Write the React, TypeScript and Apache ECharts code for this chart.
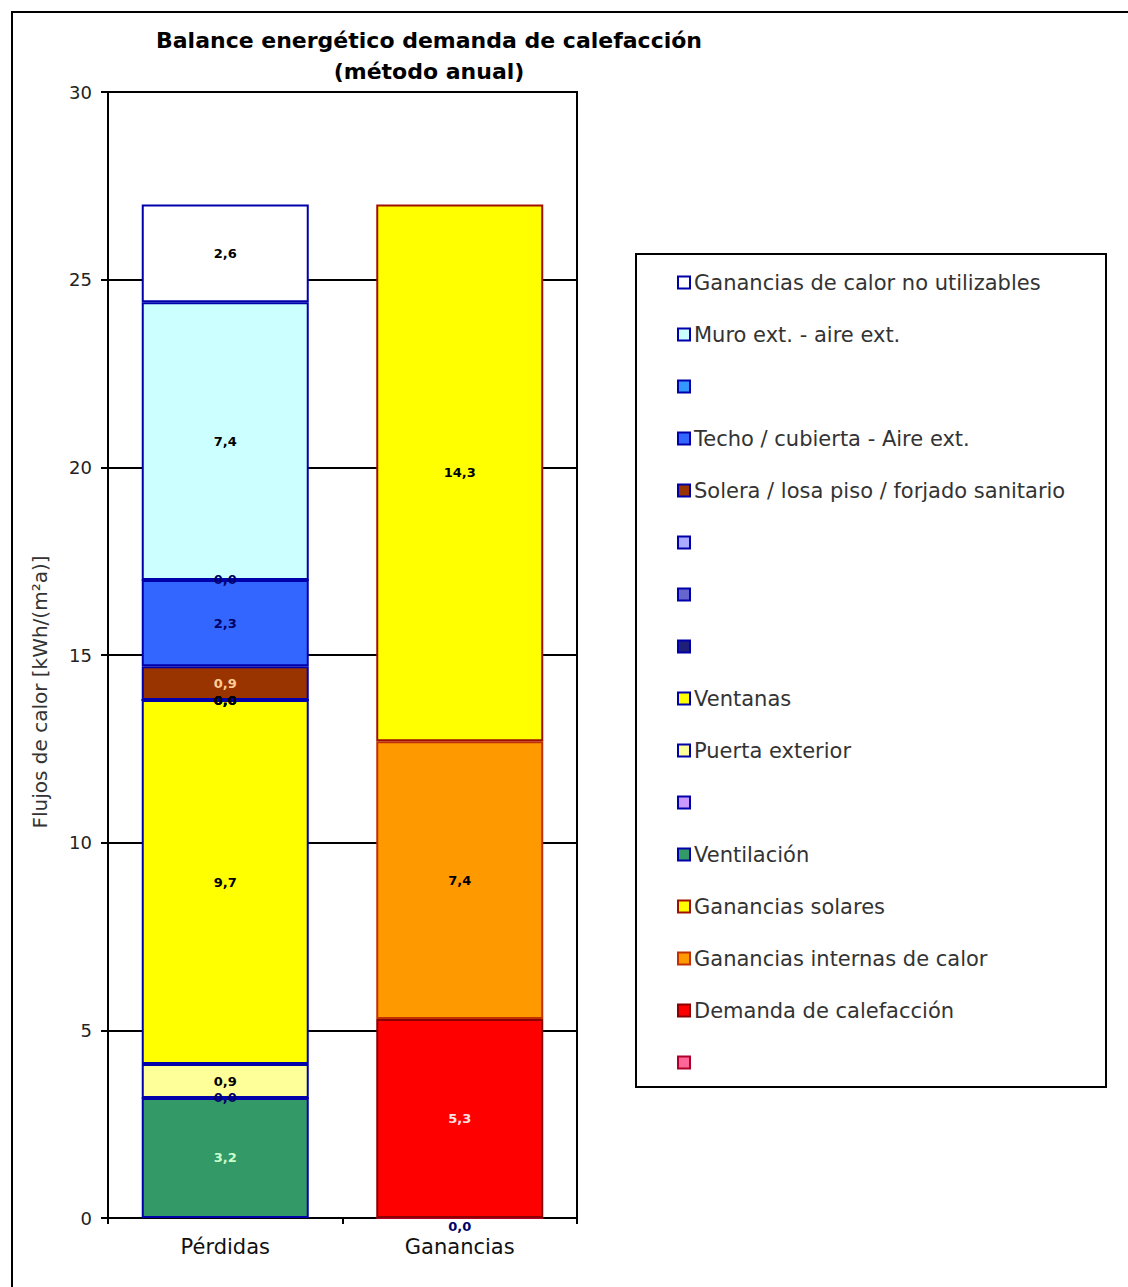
import React, { useEffect, useRef } from "react";
import * as echarts from "echarts";

const categories = ["Pérdidas", "Ganancias"];
const yTicks = { min: 0, max: 30, interval: 5 };

// Series in stacking order (bottom to top). "-" = no bar in that category.
const seriesNames = [
  "_b16",
  "Demanda de calefacción",
  "Ganancias internas de calor",
  "Ganancias solares",
  "Ventilación",
  "_b11",
  "Puerta exterior",
  "Ventanas",
  "_b8",
  "_b7",
  "_b6",
  "Solera / losa piso / forjado sanitario",
  "Techo / cubierta - Aire ext.",
  "_b3",
  "Muro ext. - aire ext.",
  "Ganancias de calor no utilizables",
];
const perdidasValues: (number | string)[] = ["-", "-", "-", "-", 3.2, 0, 0.9, 9.7, 0, 0, 0, 0.9, 2.3, 0, 7.4, 2.6];
const gananciasValues: (number | string)[] = [0, 5.3, 7.4, 14.3, "-", "-", "-", "-", "-", "-", "-", "-", "-", "-", "-", "-"];
const fillColors = [
  "#FF6699", "#FF0000", "#FF9900", "#FFFF00",
  "#339966", "#CC99FF", "#FFFF99", "#FFFF00",
  "#1F1F7A", "#6666CC", "#AAAAFF", "#993300",
  "#3366FF", "#3399FF", "#CCFFFF", "#FFFFFF",
];
const borderColors = [
  "#B0002A", "#8B0000", "#C03000", "#A01000",
  "#0000AA", "#0000AA", "#0000AA", "#0000AA",
  "#0000AA", "#0000AA", "#0000AA", "#0000AA",
  "#0000AA", "#0000AA", "#0000AA", "#0000AA",
];
const labelColors = [
  "#000066", "#FFE0E0", "#000000", "#000000",
  "#CCFFCC", "#000066", "#000000", "#000000",
  "#000000", "#000000", "#000000", "#FFCC99",
  "#000066", "#000066", "#000000", "#000000",
];

const titleText = "Balance energético demanda de calefacción\n(método anual)";
const yAxisName = "Flujos de calor [kWh/(m²a)]";

const FONT = "DejaVu Sans";

export default function App() {
  const ref = useRef<HTMLDivElement>(null);
  useEffect(() => {
    if (!ref.current) return;
    const chart = echarts.init(ref.current, undefined, { renderer: "svg" });
    const series = seriesNames.map((name, i) => ({
      name,
      type: "bar",
      stack: "total",
      barWidth: 167,
      data: [perdidasValues[i], gananciasValues[i]],
      itemStyle: { color: fillColors[i], borderColor: borderColors[i], borderWidth: 2 },
      label: {
        show: true,
        position: i === 0 ? "bottom" : "inside",
        distance: 1,
        fontFamily: FONT,
        fontSize: 13,
        fontWeight: "bold",
        color: labelColors[i],
        formatter: (p: any) => Number(p.value).toFixed(1).replace(".", ","),
      },
    }));
    const legendData = seriesNames
      .map((name, i) => ({
        name,
        icon: "rect",
        itemStyle: { color: fillColors[i], borderColor: borderColors[i], borderWidth: 2 },
      }))
      .reverse();
    chart.setOption({
      animation: false,
      backgroundColor: "#FFFFFF",
      title: {
        text: titleText,
        left: 424,
        top: 20,
        textAlign: "center",
        textStyle: { fontFamily: FONT, fontSize: 22, fontWeight: "bold", color: "#000", lineHeight: 31 },
      },
      grid: {
        left: 108,
        top: 92,
        width: 469,
        height: 1126,
        show: true,
        borderColor: "#000",
        borderWidth: 2,
        containLabel: false,
      },
      xAxis: {
        type: "category",
        data: categories,
        axisLine: { lineStyle: { color: "#000", width: 2 } },
        axisTick: { show: true, length: 6, lineStyle: { color: "#000", width: 2 } },
        axisLabel: { fontFamily: FONT, fontSize: 21, color: "#111", margin: 18 },
      },
      yAxis: {
        type: "value",
        min: yTicks.min,
        max: yTicks.max,
        interval: yTicks.interval,
        axisLine: { show: true, lineStyle: { color: "#000", width: 2 } },
        axisTick: { show: true, length: 7, lineStyle: { color: "#000", width: 2 } },
        axisLabel: { fontFamily: FONT, fontSize: 18, color: "#222", margin: 16 },
        splitLine: { show: true, lineStyle: { color: "#000", width: 2 } },
      },
      legend: {
        orient: "vertical",
        left: 677,
        top: 272,
        itemWidth: 12,
        itemHeight: 12,
        itemGap: 31,
        selectedMode: false,
        padding: 0,
        data: legendData,
        formatter: (name: string) => (name.startsWith("_") ? " " : name),
        textStyle: { fontFamily: FONT, fontSize: 21, color: "#333", lineHeight: 20, padding: [0, 0, 0, -1] },
      },
      graphic: [
        {
          type: "rect",
          shape: { x: 12, y: 12, width: 1140, height: 1300 },
          style: { fill: "none", stroke: "#000", lineWidth: 2 },
          silent: true,
        },
        {
          type: "rect",
          shape: { x: 636, y: 254, width: 470, height: 833 },
          style: { fill: "none", stroke: "#000", lineWidth: 2 },
          silent: true,
        },
        {
          type: "text",
          x: 40,
          y: 692,
          rotation: Math.PI / 2,
          style: {
            text: yAxisName,
            fontFamily: FONT,
            fontSize: 20,
            fill: "#333",
            textAlign: "center",
            textVerticalAlign: "middle",
          },
        },
      ],
      series,
    });
    return () => chart.dispose();
  }, []);
  return (
    <div
      ref={ref}
      style={{ position: "absolute", left: 0, top: 0, width: 1128, height: 1287 }}
    />
  );
}
